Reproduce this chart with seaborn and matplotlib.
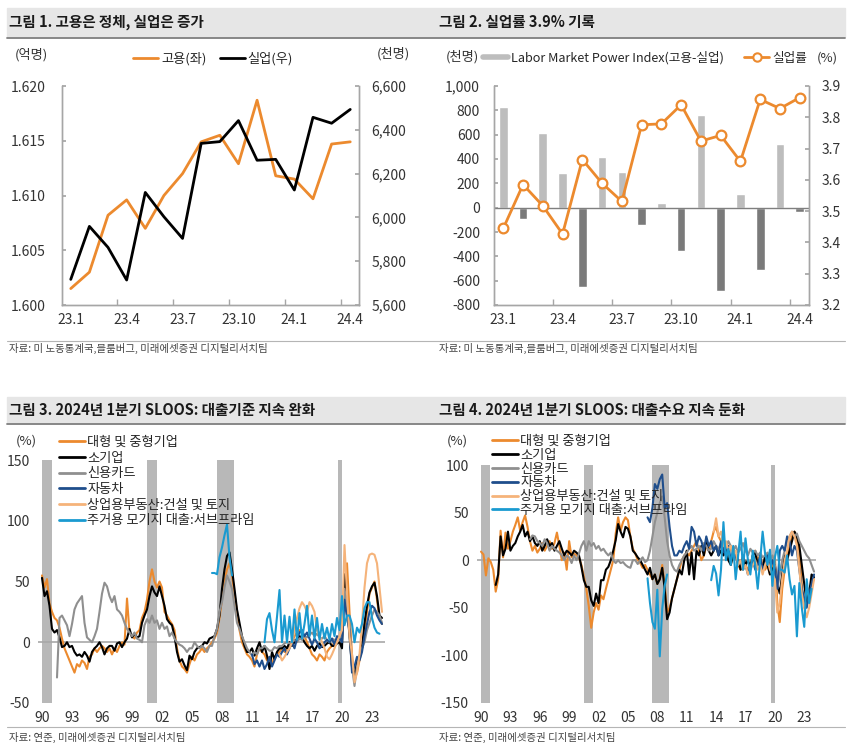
import matplotlib
matplotlib.use("Agg")
import matplotlib.pyplot as plt
import numpy as np
import pandas as pd
import seaborn as sns
from matplotlib.lines import Line2D
from matplotlib.patches import Rectangle
from matplotlib.ticker import FuncFormatter

# ---- 그림 1 / 그림 2 : 월별 데이터 (23.1 ~ 24.4)
months = ["23.1", "23.2", "23.3", "23.4", "23.5", "23.6", "23.7", "23.8",
          "23.9", "23.10", "23.11", "23.12", "24.1", "24.2", "24.3", "24.4"]
employment = [1.6015, 1.6030, 1.6082, 1.6096, 1.6070, 1.6100, 1.6120, 1.6149,
              1.6155, 1.6129, 1.6187, 1.6118, 1.6115, 1.6097, 1.6147, 1.6149]
unemployed = [5717, 5959, 5863, 5714, 6114, 6003, 5904, 6338,
              6346, 6442, 6261, 6265, 6125, 6457, 6430, 6493]
lmpi = [827, -90, 614, 285, -652, 414, 293, -142,
        38, -359, 762, -688, 110, -510, 523, -33]
unemp_rate = [3.445, 3.585, 3.517, 3.427, 3.665, 3.589, 3.531, 3.776,
              3.779, 3.840, 3.724, 3.742, 3.659, 3.857, 3.828, 3.863]
month_ticks = [0, 3, 6, 9, 12, 15]

# ---- 그림 3 : SLOOS 대출기준 (분기, 시작연도 + 값)
std_ci_start = 1990.0
std_ci = [55, 45, 52, 32, 25, 20, 18, 12, 3, -5, -10, -15, -20, -25, -18, -20,
          -15, -17, -22, -12, -10, -5, -8, -5, -3, -5, -8, -5, -10, -5, -8, -3,
          0, -2, 36, 8, 5, 3, 8, 10, 20, 25, 35, 50, 60, 50, 45, 50,
          45, 25, 22, 18, 15, 10, -5, -15, -20, -22, -25, -18, -12, -15, -10, -8,
          -5, -8, -5, -3, 0, 3, 8, 20, 35, 50, 60, 65, 55, 40, 25, 10,
          0, -5, -10, -12, -15, -20, -10, -5, -8, -10, -15, -12, -18, -12, -10, -8,
          -5, -8, -5, -3, 0, 5, 8, 10, 8, 5, 0, -5, -10, -12, -15, -10,
          -12, -15, -8, -5, -3, 0, 3, 5, 5, 45, 65, 25, -10, -30, -25, -15,
          -5, 10, 25, 40, 45, 50, 35, 20, 15]
std_small_start = 1990.0
std_small = [53, 38, 42, 30, 11, 8, 10, 4, -4, -3, 0, -4, -3, -8, -11, -10,
             -12, -8, -11, -16, -8, -5, -3, 0, -4, -10, -5, -3, -3, -7, -1, 0,
             -4, 0, 3, 11, 4, 7, 4, 5, 16, 22, 27, 38, 46, 41, 38, 46,
             38, 30, 19, 16, 14, 5, -8, -16, -14, -19, -23, -11, -14, -8, -5, -4,
             -3, 0, -1, 3, 4, 5, 11, 22, 44, 60, 71, 74, 60, 44, 27, 16,
             5, -3, -8, -8, -5, -11, -5, 0, -8, -3, -11, -22, -8, -14, -8, -5,
             -5, -3, -5, 0, -3, 0, 3, 5, 4, 0, -3, -5, -3, -7, -3, -1,
             -4, -3, -1, 0, -3, -3, -1, 0, -5, 56, 30, 5, -20, -28, -15, -12,
             -5, 16, 30, 41, 46, 49, 38, 22, 20]
std_card_start = 1991.5
std_card = [-29, 20,
            22, 18, 14, 5, 15, 27, 32, 35, 38, 16, 4, 2, 0, 5, 11, 25,
            40, 49, 46, 38, 33, 38, 27, 25, 22, 16, 11, 8, 5, 8, 3, 2,
            0, 14, 19, 16, 22, 16, 18, 11, 16, 11, 13, 5, 8, 3, 0, -2,
            -3, -5, -8, -5, -5, 0, -3, -5, -3, -5, -8, -3, -3, 5, 11, 25,
            33, 45, 55, 50, 44, 30, 16, 11, 5, 0, -5, -8, -11, -8, -10, -5,
            -5, -3, -5, -7, -7, -4, -5, -3, -3, -1, 0, -1, 0, 2, 0, 3,
            2, 5, 4, 6, 8, 5, 7, 4, 3, 5, 2, 0, 3, 2, 0, 3,
            5, 44, 30, 16, -20, -36, -20, -11, -5, 0, 10, 16, 22, 27, 25, 22, 16]
std_auto_start = 2011.0
std_auto = [-10, -18, -15, -20, -15, -22, -18, -12, -20, -15, -10, -12,
            -8, -5, -10, -5, 0, -5, 3, 8, 10, 5, 8, 3, -2, 3, 0, -5,
            -3, 0, 2, 0, 3, -2, 5, 3, 0, 35, 20, 10, -25, -20, -12, -15,
            -8, 5, 15, 25, 30, 28, 22, 18, 15]
std_cre_start = 2013.75
std_cre = [-10, -15, -12, -8, -5, 0, 10, 20, 28, 33, 30, 25, 33,
           30, 25, 10, 5, 0, -5, -12, -14, -10, -5, 0, 5,
           10, 80, 40, 5, -10, -33, -25, -10, 15, 45, 65, 72,
           73, 72, 65, 45, 25]
std_sub_start = 2007.0
std_sub = [57, 57, 56, 70, 78, 88, 97, 70, 55,
           np.nan, np.nan, np.nan, np.nan, np.nan, np.nan, np.nan, np.nan, np.nan, np.nan, np.nan, np.nan,
           0, 19, 24, 10, 0, 21, 43, 0, 22, 0, 21, 0, 27, 2,
           24, 3, 15, 30, 5, 22, 3, 20, 2, 15, 3, 12, 2, 15, 5, 20,
           10, 38, 14, 22, 22, 15, 0, 12, 8, 15, 28, 33, 33, 20, 12, 8, 7]

# ---- 그림 4 : SLOOS 대출수요
dem_ci_start = 1990.0
dem_ci = [9, 6, -16, 2, -2, -10, -33, -20, 31, 3, 29, 12, 20, 30, 37, 45,
          31, 40, 47, 35, 20, 10, 15, 8, 12, 18, 10, 15, 20, 12, 18, 29,
          15, 0, 8, -10, 20, 3, 7, 5, 3, -5, -17, -30, -48, -71, -55, -45,
          -52, -37, -41, -30, -20, -10, 0, 28, 45, 31, 40, 45, 42, 25, 12, 7,
          0, -3, -8, -5, -10, -15, -20, -15, -25, -20, -5, -25, -55, -50, -40, -30,
          -20, -10, 0, 5, 8, 5, 10, 15, 20, 10, 0, 5, 15, 10, 20, 30,
          35, 25, 20, 15, 10, 5, 15, 10, 5, -5, -10, 0, -5, -10, -5, 5,
          10, 0, 5, -5, -10, -5, -15, -10, 5, -45, -65, -30, -10, 5, 15, 25,
          30, 20, 10, -25, -50, -45, -30, -25, -20]
dem_small_start = 1991.5
dem_small = [-26, -15,
             25, 5, 12, 30, 10, 15, 18, 25, 30, 37, 25, 30, 20, 25, 18, 15,
             20, 10, 15, 22, 15, 18, 10, 15, 20, 12, 5, 10, 8, 5, 10, 8,
             5, -7, -21, -28, -28, -42, -48, -35, -45, -21, -21, -10, -7, 0, 10, 21,
             38, 30, 24, 35, 33, 25, 10, 7, 3, 0, -5, -10, -15, -8, -20, -15,
             -25, -20, -8, -30, -62, -55, -40, -30, -20, -10, -15, 0, 10, -15, 8, -20,
             10, 5, 15, 5, 20, 10, 5, 10, 15, 5, 10, 5, 12, 0, -5, 5,
             8, 0, -10, 5, -5, 0, -8, 5, 8, -5, 0, -10, 5, -5, -15, -10,
             -5, -25, -35, -15, 5, 0, 10, 20, 30, 25, 15, -5, -25, -45, -35, -15, -18]
dem_card_start = 1995.0
dem_card = [22, 26, 25, 20, 18, 15, 22, 18, 10, 15, 12, 10, 8, 5, 0, 5,
            3, -3, 5, 0, 7, 15, 20, 10, 20, 15, 18, 12, 15, 10, 12, 8,
            5, 8, 0, -3, 0, -3, -2, -5, -7, -8, 0, 0, -4, 0, 3, -2,
            0, 10, 25, 40, 50, 60, 67, 45, 20, 5, -5, -10, -12, -5, 0, 5,
            8, 12, 15, 10, 12, 15, 10, 18, 15, 10, 12, 20, 15, 12, 18, 10,
            12, 20, 15, 10, 15, 8, 12, 18, 10, 5, 12, 8, 10, 5, 8, 3,
            5, 8, 0, 5, -5, -30, -15, 0, 10, 20, 25, 30, 25, 28, 20, 15,
            10, 5, 2, -5, -12]
dem_auto_start = 2007.0
dem_auto = [45, 40, 55, 80, 75, 85, 90, 55, 60, 35, 15, 5,
            5, 10, 8, 15, 20, 12, 35, 30, 15, 25, 20, 10, 25, 15, 20, 10,
            15, 5, 20, 10, 5, 15, 0, 10, 5, -5, 0, -10, -5, -15, -5, 0,
            -10, -5, 5, -10, -5, 5, -8, 0, -10, -30, 10, 15, 10, 25, 20, 5,
            15, 10, -10, -30, -40, -50, -35, -25, -15]
dem_cre_start = 2013.75
dem_cre = [30, 44, 25, 30, 15, 20, 10, 15, 5, 10, -5, 0, -10,
           -5, -15, -10, -5, 0, -10, -5, -15, -5, 0, -10, -15,
           -20, -55, -45, -20, 0, 10, 25, 30, 25, 15, -10, -35,
           -50, -60, -50, -35, -20]
dem_sub_start = 2007.0
dem_sub = [-19, -45, -65, -72, -31, -101, -51, -27, -15,
           np.nan, np.nan, np.nan, np.nan, np.nan, np.nan, np.nan, np.nan, np.nan, np.nan, np.nan,
           np.nan, np.nan, np.nan, np.nan, np.nan, np.nan,
           -21, -6, -14, -37, -10, 40, 0, 12, -5, 15, -20, 5, 30,
           -10, 23, 0, -15, 10, -5, -30, 0, 30, 7, -5, 11,
           -27, 3, 15, -10, -10, -13, 5, -20, -36, -27, -80, -24,
           -50, -70, -20, -45, -30]

recessions = [(1990.0, 1990.95), (2000.5, 2001.45), (2007.5, 2009.15), (2019.6, 2020.0)]
year_ticks = [1990, 1993, 1996, 1999, 2002, 2005, 2008, 2011, 2014, 2017, 2020, 2023]
year_labels = ["90", "93", "96", "99", "02", "05", "08", "11", "14", "17", "20", "23"]

series_names = ["대형 및 중형기업", "소기업", "신용카드", "자동차",
                "상업용부동산:건설 및 토지", "주거용 모기지 대출:서브프라임"]

ORANGE = "#ec8a2e"
LIGHT_ORANGE = "#f5b37a"
NAVY = "#1f4e8c"
SKY = "#1a9ad0"
CARD_GRAY = "#8f8f8f"
BAR_LIGHT = "#bdbdbd"
BAR_DARK = "#7a7a7a"
SPINE = "#a6a6a6"
TXT = "#333333"
series_colors = [ORANGE, "black", CARD_GRAY, NAVY, LIGHT_ORANGE, SKY]

W, H = 850, 749

sns.set_theme(style="white")
plt.rcParams["font.family"] = ["Noto Sans CJK KR", "DejaVu Sans"]
plt.rcParams["axes.unicode_minus"] = False


def box(x0, y0, x1, y1):
    # 픽셀 좌표 -> figure 좌표
    return [x0 / W, 1 - y1 / H, (x1 - x0) / W, (y1 - y0) / H]


def draw_series(ax, start, values, color, lw=1.5):
    y = pd.Series(values, dtype=float)
    x = start + 0.25 * np.arange(len(y))
    ok = y.notna().values
    run = y.isna().cumsum().values
    sns.lineplot(x=x[ok], y=y.values[ok], units=run[ok], estimator=None,
                 color=color, linewidth=lw, ax=ax)


fig = plt.figure(figsize=(W / 100, H / 100), dpi=100)

# 제목 바 / 출처 구분선
for top, bottom in [(8, 37), (397, 423)]:
    fig.patches.append(Rectangle((7 / W, 1 - bottom / H), 838 / W, (bottom - top) / H,
                                 transform=fig.transFigure, color="#e6e6e6", zorder=0))
    fig.add_artist(Line2D([7 / W, 845 / W], [1 - (bottom + 0.8) / H] * 2,
                          transform=fig.transFigure, color="#7f7f7f", lw=1.3))
for yy in [340.5, 727]:
    fig.add_artist(Line2D([7 / W, 845 / W], [1 - yy / H] * 2,
                          transform=fig.transFigure, color="#b5b5b5", lw=0.8))

titles = [(9, 22, "그림 1. 고용은 정체, 실업은 증가"),
          (439, 22, "그림 2. 실업률 3.9% 기록"),
          (9, 410, "그림 3. 2024년 1분기 SLOOS: 대출기준 지속 완화"),
          (439, 410, "그림 4. 2024년 1분기 SLOOS: 대출수요 지속 둔화")]
for x, y, t in titles:
    fig.text(x / W, 1 - y / H, t, fontsize=10.5, fontweight="bold", va="center", color="#1a1a1a")

sources = [(9, 348, "자료: 미 노동통계국,블룸버그, 미래에셋증권 디지털리서치팀"),
           (439, 348, "자료: 미 노동통계국,블룸버그, 미래에셋증권 디지털리서치팀"),
           (9, 737, "자료: 연준, 미래에셋증권 디지털리서치팀"),
           (439, 737, "자료: 연준, 미래에셋증권 디지털리서치팀")]
for x, y, t in sources:
    fig.text(x / W, 1 - y / H, t, fontsize=7.5, va="center", color="#444444")


def style_month_axis(ax):
    ax.set_xlim(-0.47, 15.47)
    ax.set_xticks(month_ticks)
    ax.set_xticklabels([months[i] for i in month_ticks])
    ax.set_xticks([2.5, 5.5, 8.5, 11.5, 14.5], minor=True)
    ax.tick_params(axis="x", which="major", length=0, pad=6, labelsize=10, labelcolor=TXT)
    ax.tick_params(axis="x", which="minor", length=4, direction="in", color=SPINE, bottom=True)
    for s in ["left", "right", "bottom"]:
        ax.spines[s].set_color(SPINE)
        ax.spines[s].set_linewidth(1)
    ax.spines["top"].set_visible(False)
    ax.set_xlabel("")
    ax.set_ylabel("")


# ---- 그림 1
x_idx = list(range(len(months)))
ax1 = fig.add_axes(box(62, 86, 359, 305))
sns.lineplot(x=x_idx, y=employment, color=ORANGE, linewidth=2, ax=ax1)
ax1.set_ylim(1.600, 1.620)
ax1.set_yticks([1.600, 1.605, 1.610, 1.615, 1.620])
ax1.yaxis.set_major_formatter(FuncFormatter(lambda v, p: f"{v:.3f}"))
style_month_axis(ax1)
ax1.tick_params(axis="y", length=3, direction="in", color=SPINE, pad=12, labelsize=10, labelcolor=TXT, left=True)
ax1r = ax1.twinx()
sns.lineplot(x=x_idx, y=unemployed, color="black", linewidth=2, ax=ax1r)
ax1r.set_ylim(5600, 6600)
ax1r.set_yticks(range(5600, 6601, 200))
ax1r.yaxis.set_major_formatter(FuncFormatter(lambda v, p: f"{v:,.0f}"))
style_month_axis(ax1r)
ax1r.tick_params(axis="y", length=3, direction="in", color=SPINE, pad=9, labelsize=10, labelcolor=TXT, right=True)
fig.text(31 / W, 1 - 55 / H, "(억명)", fontsize=9.5, ha="center", va="center", color=TXT)
fig.text(393 / W, 1 - 54 / H, "(천명)", fontsize=9.5, ha="center", va="center", color=TXT)
ax1.legend(handles=[Line2D([], [], color=ORANGE, lw=2), Line2D([], [], color="black", lw=2)],
           labels=["고용(좌)", "실업(우)"], ncol=2, frameon=False, fontsize=9.5,
           handlelength=1.9, handletextpad=0.2, columnspacing=1.0,
           loc="center", bbox_to_anchor=(213 / W, 1 - 59 / H), bbox_transform=fig.transFigure)

# ---- 그림 2
ax2 = fig.add_axes(box(494, 86, 809, 305))
bar_sign = ["pos" if v >= 0 else "neg" for v in lmpi]
sns.barplot(x=x_idx, y=lmpi, hue=bar_sign, palette={"pos": BAR_LIGHT, "neg": BAR_DARK},
            dodge=False, width=0.44, saturation=1, legend=False, ax=ax2)
ax2.axhline(0, color="#7f7f7f", lw=1, zorder=1)
ax2.set_ylim(-800, 1000)
ax2.set_yticks(range(-800, 1001, 200))
ax2.yaxis.set_major_formatter(FuncFormatter(lambda v, p: f"{v:,.0f}"))
style_month_axis(ax2)
ax2.tick_params(axis="y", length=3, direction="in", color=SPINE, pad=10, labelsize=10, labelcolor=TXT, left=True)
ax2r = ax2.twinx()
sns.lineplot(x=x_idx, y=unemp_rate, color=ORANGE, linewidth=2, marker="o", markersize=7,
             markerfacecolor="white", markeredgecolor=ORANGE, markeredgewidth=1.6, ax=ax2r)
ax2r.set_ylim(3.2, 3.9)
ax2r.set_yticks([3.2, 3.3, 3.4, 3.5, 3.6, 3.7, 3.8, 3.9])
ax2r.yaxis.set_major_formatter(FuncFormatter(lambda v, p: f"{v:.1f}"))
style_month_axis(ax2r)
ax2r.tick_params(axis="y", length=3, direction="in", color=SPINE, pad=9, labelsize=10, labelcolor=TXT, right=True)
fig.text(462 / W, 1 - 57 / H, "(천명)", fontsize=9.5, ha="center", va="center", color=TXT)
fig.text(827 / W, 1 - 58 / H, "(%)", fontsize=9.5, ha="center", va="center", color=TXT)
ax2r.legend(handles=[Line2D([], [], color=BAR_LIGHT, lw=4),
                     Line2D([], [], color=ORANGE, lw=2, marker="o", markersize=6,
                            markerfacecolor="white", markeredgewidth=1.5)],
            labels=["Labor Market Power Index(고용-실업)", "실업률"], ncol=2, frameon=False,
            fontsize=9.1, handlelength=2.0, handletextpad=0.25, columnspacing=1.6,
            loc="center", bbox_to_anchor=(645 / W, 1 - 58 / H), bbox_transform=fig.transFigure)


# ---- 그림 3 / 그림 4
def sloos_panel(rect, xlim, ylim, yticks, data, leg_anchor, leg_space):
    ax = fig.add_axes(rect)
    for a, b in recessions:
        ax.axvspan(a, b, color="#b8b8b8", lw=0, zorder=0)
    ax.axhline(0, color="#a8a8a8", lw=1.2, zorder=1)
    for (start, vals), col in zip(data, series_colors):
        draw_series(ax, start, vals, col)
    ax.set_xlim(*xlim)
    ax.set_ylim(*ylim)
    ax.set_xticks(year_ticks)
    ax.set_xticklabels(year_labels)
    ax.set_yticks(yticks)
    ax.tick_params(length=0, labelsize=10, labelcolor=TXT)
    ax.tick_params(axis="y", pad=6)
    ax.tick_params(axis="x", pad=6)
    for s in ax.spines.values():
        s.set_visible(False)
    ax.set_xlabel("")
    ax.set_ylabel("")
    handles = [Line2D([], [], color=c, lw=2) for c in series_colors]
    ax.legend(handles=handles, labels=series_names, frameon=False, fontsize=9.5,
              handlelength=2.0, handletextpad=0.15, labelspacing=leg_space, borderpad=0,
              borderaxespad=0, loc="upper left", bbox_to_anchor=leg_anchor,
              bbox_transform=fig.transFigure)
    return ax


ax3 = sloos_panel(box(38, 460, 385, 703), (1989.6, 2024.3), (-50, 150), [-50, 0, 50, 100, 150],
                  [(std_ci_start, std_ci), (std_small_start, std_small), (std_card_start, std_card),
                   (std_auto_start, std_auto), (std_cre_start, std_cre), (std_sub_start, std_sub)],
                  (59 / W, 1 - 436 / H), 0.2)
fig.text(26 / W, 1 - 441 / H, "(%)", fontsize=9.5, ha="center", va="center", color=TXT)

ax4 = sloos_panel(box(477, 465, 816, 703), (1989.59, 2024.2), (-150, 100), [-150, -100, -50, 0, 50, 100],
                  [(dem_ci_start, dem_ci), (dem_small_start, dem_small), (dem_card_start, dem_card),
                   (dem_auto_start, dem_auto), (dem_cre_start, dem_cre), (dem_sub_start, dem_sub)],
                  (492 / W, 1 - 435 / H), 0.06)
fig.text(457 / W, 1 - 441 / H, "(%)", fontsize=9.5, ha="center", va="center", color=TXT)

fig.savefig("out.png", dpi=100)
plt.close(fig)
